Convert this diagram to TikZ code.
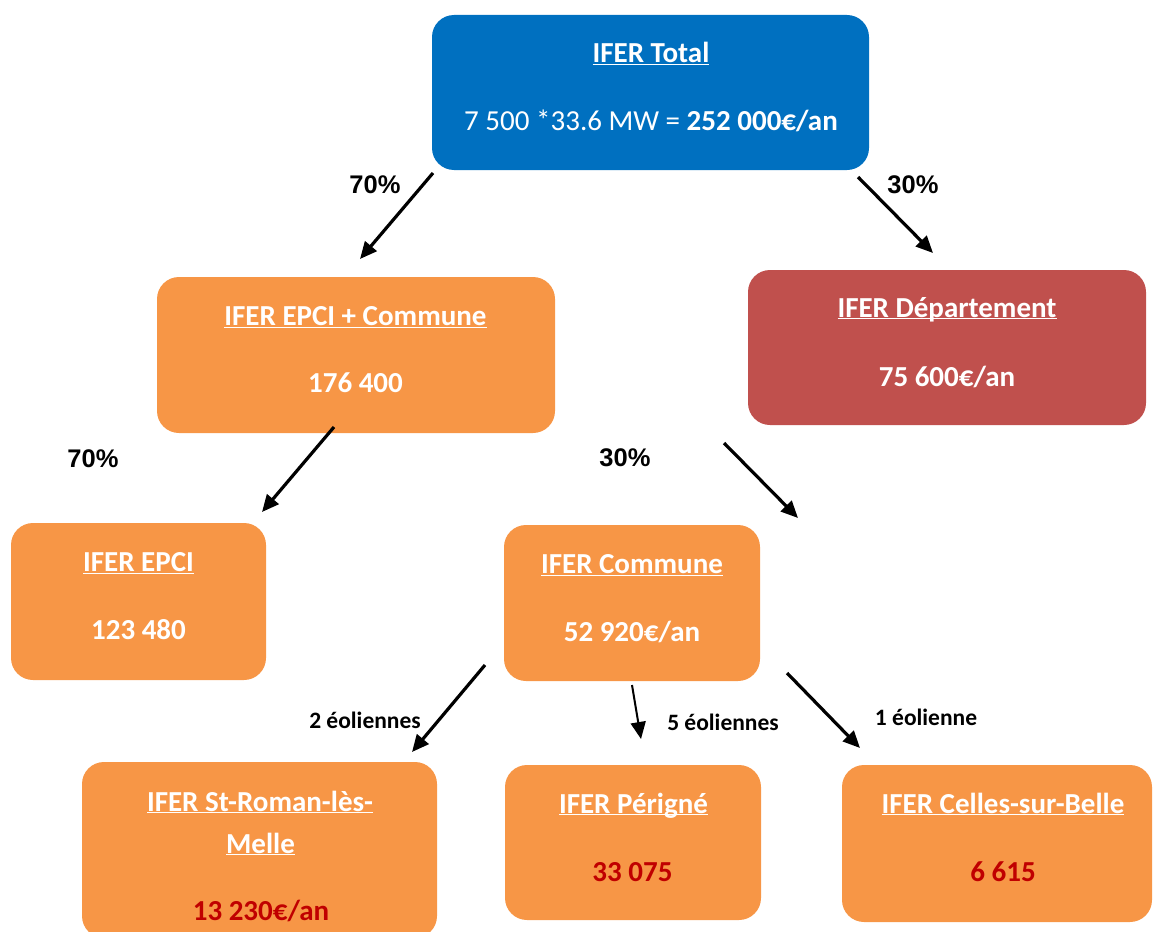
\documentclass[tikz,border=0pt]{standalone}
\usepackage{fontspec}
\setmainfont{Carlito}
\newfontfamily\pctfont{Liberation Sans}
\usetikzlibrary{arrows.meta, positioning, calc}

\definecolor{iferblue}{HTML}{0070C0}
\definecolor{iferorange}{HTML}{F79646}
\definecolor{iferred}{HTML}{C0504D}
\definecolor{iferdark}{HTML}{C00000}

\newcommand{\ulbox}[1]{\underline{\smash{#1}}}

\begin{document}
\begin{tikzpicture}[
    x=1pt, y=-1pt,
    box/.style={rectangle, rounded corners=22pt, inner sep=0pt},
    title/.style={font=\fontsize{29}{35}\selectfont\bfseries, text=white, anchor=base, inner sep=0pt},
    amount/.style={font=\fontsize{29}{35}\selectfont\bfseries, text=white, anchor=base, inner sep=0pt},
    share/.style={font=\pctfont\fontsize{25.5}{30}\selectfont\bfseries, anchor=base, inner sep=0pt},
    turbines/.style={font=\fontsize{23.5}{28}\selectfont\bfseries, anchor=base, inner sep=0pt},
    arrow/.style={-{Triangle[length=17pt, width=15pt]}, line width=3.2pt},
]
\clip (0,0) rectangle (1155,931);

% Boxes
\node[box, fill=iferblue, minimum width=437pt, minimum height=155pt] (total) at (650.5,92.5) {};
\node[box, fill=iferorange, minimum width=398pt, minimum height=156pt] (epcicom) at (356,355) {};
\node[box, fill=iferred, minimum width=398pt, minimum height=155pt] (dept) at (947,347.5) {};
\node[box, fill=iferorange, minimum width=255pt, minimum height=157pt] (epci) at (138.5,601.5) {};
\node[box, fill=iferorange, minimum width=256pt, minimum height=156pt] (commune) at (632,603) {};
\node[box, fill=iferorange, minimum width=355pt, minimum height=176pt] (stroman) at (259.5,850) {};
\node[box, fill=iferorange, minimum width=256pt, minimum height=155pt] (perigne) at (633,842.5) {};
\node[box, fill=iferorange, minimum width=310pt, minimum height=157pt] (celles) at (997,843.5) {};

% Texts
\node[title] (totalT) at (651,63) {\ulbox{IFER Total}};
\node[amount] (totalV) at (651,130) {\mdseries 7 500 *33.6 MW = \bfseries 252 000€/an};
\node[title] (epcicomT) at (355.5,325.5) {\ulbox{IFER EPCI + Commune}};
\node[amount] (epcicomV) at (355.5,392.5) {176 400};
\node[title] (deptT) at (947,317) {\ulbox{IFER Département}};
\node[amount] (deptV) at (947,386) {75 600€/an};
\node[title] (epciT) at (138.5,571.5) {\ulbox{IFER EPCI}};
\node[amount] (epciV) at (138.5,639.5) {123 480};
\node[title] (communeT) at (632,573.5) {\ulbox{IFER Commune}};
\node[amount] (communeV) at (632,641.5) {52 920€/an};
\node[title] (stromanT) at (260,811) {\ulbox{IFER St-Roman-lès-}};
\node[title] (stromanU) at (260.5,853) {\ulbox{Melle}};
\node[amount, text=iferdark] (stromanV) at (261,920) {13 230€/an};
\node[title] (perigneT) at (633.5,813) {\ulbox{IFER Périgné}};
\node[amount, text=iferdark] (perigneV) at (632.5,881) {33 075};
\node[title] (cellesT) at (1003,813) {\ulbox{IFER Celles-sur-Belle}};
\node[amount, text=iferdark] (cellesV) at (1003,881) {6 615};

% Shares
\node[share] (shareA) at (375,193) {70\%};
\node[share] (shareB) at (913,193) {30\%};
\node[share] (shareC) at (93,467) {70\%};
\node[share] (shareD) at (625,466) {30\%};
\node[turbines] (turbA) at (365,728) {2 éoliennes};
\node[turbines] (turbB) at (723,730) {5 éoliennes};
\node[turbines] (turbC) at (926,725) {1 éolienne};

% Arrow ends
\coordinate (a1s) at (433,173);   \coordinate (a1e) at (360,259);
\coordinate (a2s) at (858,177);   \coordinate (a2e) at (933,253);
\coordinate (a3s) at (334,427);   \coordinate (a3e) at (262,512);
\coordinate (a4s) at (724,443);   \coordinate (a4e) at (798,518);
\coordinate (a5s) at (485,665);   \coordinate (a5e) at (412,752);
\coordinate (a6s) at (632,685);   \coordinate (a6e) at (641,739);
\coordinate (a7s) at (787,673);   \coordinate (a7e) at (860,748);

\draw[arrow] (a1s) -- (a1e);
\draw[arrow] (a2s) -- (a2e);
\draw[arrow] (a3s) -- (a3e);
\draw[arrow] (a4s) -- (a4e);
\draw[arrow] (a5s) -- (a5e);
\draw[arrow, line width=2pt] (a6s) -- (a6e);
\draw[arrow] (a7s) -- (a7e);

\end{tikzpicture}
\end{document}
